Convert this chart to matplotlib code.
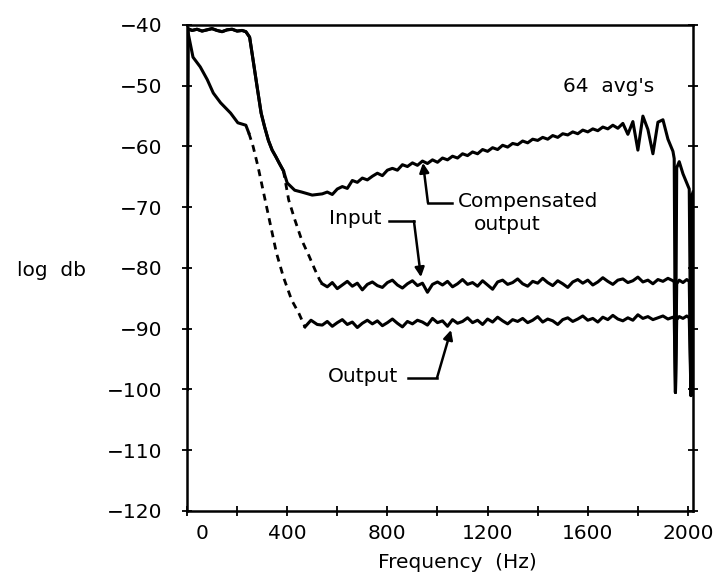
import numpy as np
import matplotlib
matplotlib.use("Agg")
import matplotlib.pyplot as plt
from matplotlib.transforms import ScaledTranslation

# spectrum traces (Hz, log db)

# leading part of the traces (0 Hz up to the noise floor)
input_head_f = [0, 4, 20, 40, 60, 80, 100, 120, 140, 160, 180, 200, 220, 235,
                250, 264, 280, 296, 310, 325, 340, 355, 369, 385,
                406, 430, 458, 487, 511, 530]
input_head_db = [-100, -40.6, -40.9, -40.7, -41.0, -40.8, -40.6, -40.9, -41.1, -40.8,
                 -40.7, -41.0, -40.9, -41.1, -42.0, -45.8, -50.2, -54.5, -56.8, -59.0,
                 -60.6, -61.7, -62.8, -64.0,
                 -68.8, -72.0, -75.4, -78.0, -80.3, -82.0]

comp_head_f = [0, 4, 20, 40, 60, 80, 100, 120, 140, 160, 180, 200, 220, 235,
               250, 264, 280, 296, 310, 325, 340, 355, 369, 385,
               400, 430, 458, 500, 520]
comp_head_db = [-100, -40.6, -40.9, -40.7, -41.0, -40.8, -40.6, -40.9, -41.1, -40.8,
                -40.7, -41.0, -40.9, -41.1, -42.0, -45.8, -50.2, -54.5, -56.8, -59.0,
                -60.6, -61.7, -62.8, -64.0,
                -66.0, -67.2, -67.5, -68.0, -67.9]

output_head_f = [0, 3, 24, 53, 81, 105, 134, 174, 203, 235, 247, 264, 284,
                 357, 385, 418, 446, 471, 495, 520]
output_head_db = [-100, -41.0, -45.3, -46.9, -49.0, -51.2, -52.8, -54.5, -56.1, -56.5,
                  -57.8, -60.0, -63.4, -77.5, -81.5, -85.3, -87.4, -89.7, -88.6, -89.3]

# noise floor, one value per 20 Hz bin from 540 to 1940 Hz
floor_f = np.arange(540, 1941, 20)

input_floor_db = [
    -82.6, -83.1, -82.4, -83.4, -82.8, -82.2, -83.0, -82.5, -83.6, -82.7,
    -82.3, -82.9, -83.2, -82.4, -82.0, -82.8, -83.3, -82.6, -82.1, -82.9,
    -82.5, -84.0, -82.7, -82.3, -82.8, -82.2, -83.1, -82.6, -81.9, -82.7,
    -82.4, -83.0, -82.1, -82.8, -83.5, -82.3, -82.0, -82.7, -82.4, -81.8,
    -82.6, -83.0, -82.2, -82.5, -81.7, -82.4, -82.9, -82.1, -82.6, -83.2,
    -82.3, -81.9, -82.5, -82.0, -82.8, -82.3, -81.6, -82.2, -82.7, -82.0,
    -81.8, -82.4, -82.1, -81.5, -82.3, -82.0, -82.6, -81.9, -82.2, -81.7,
    -82.1]

output_floor_db = [
    -89.4, -88.8, -89.6, -89.0, -88.5, -89.3, -88.9, -89.8, -89.1, -88.6,
    -89.2, -88.7, -89.5, -89.0, -88.4, -89.1, -89.7, -88.8, -89.2, -88.6,
    -88.9, -89.4, -88.3, -89.0, -88.7, -89.6, -88.5, -89.1, -88.8, -88.2,
    -89.0, -88.6, -89.3, -88.4, -88.9, -88.1, -88.7, -89.2, -88.5, -88.8,
    -88.3, -89.0, -88.6, -88.0, -88.9, -88.4, -88.7, -89.3, -88.5, -88.2,
    -88.8, -88.4, -87.9, -88.6, -88.3, -88.9, -88.1, -88.5, -87.8, -88.4,
    -88.7, -88.2, -88.6, -87.7, -88.3, -88.0, -88.5, -88.2, -87.9, -88.4,
    -88.1]

comp_floor_db = [
    -67.8, -67.5, -67.9, -67.0, -66.6, -66.9, -65.6, -65.9, -65.2, -65.5,
    -64.9, -64.4, -64.8, -63.9, -63.6, -63.9, -63.0, -63.3, -62.7, -63.1,
    -62.4, -62.8, -62.2, -62.6, -61.9, -62.2, -61.6, -61.9, -61.2, -61.5,
    -60.9, -61.2, -60.5, -60.8, -60.2, -60.5, -59.8, -60.1, -59.5, -59.7,
    -59.1, -59.4, -58.8, -59.0, -58.5, -58.8, -58.2, -58.5, -57.9, -58.1,
    -57.6, -57.9, -57.3, -57.6, -57.1, -57.4, -56.8, -57.1, -56.5, -57.0,
    -56.2, -58.0, -55.9, -60.6, -55.0, -57.2, -61.2, -56.0, -55.6, -58.8,
    -60.8]

# top end of the band with the two deep notches
tail_f = [1945, 1950, 1955, 1965, 1980, 1995, 2005, 2012, 2016, 2020]
comp_tail_db = [-62.0, -100.5, -63.5, -62.5, -64.5, -66.0, -67.0, -101.0, -68.0, -67.5]
input_tail_db = [-82.2, -100.5, -82.6, -82.0, -82.4, -81.9, -82.2, -101.0, -82.4, -82.0]
output_tail_db = [-88.2, -100.5, -88.5, -88.0, -88.3, -87.9, -88.2, -101.0, -88.6, -88.1]

x_ticks = [0, 400, 800, 1200, 1600, 2000]
y_ticks = [-40, -50, -60, -70, -80, -90, -100, -110, -120]


def join(head_f, head_db, floor_db, tail_db):
    f = np.concatenate([head_f, floor_f, tail_f]).astype(float)
    v = np.concatenate([head_db, floor_db, tail_db]).astype(float)
    return f, v


def draw(ax, f, v, fast_lo=None, fast_hi=None):
    # the pen skipped over the steep parts, so those are drawn dashed
    if fast_lo is None:
        ax.plot(f, v, color="black", lw=2.2, solid_joinstyle="round")
        return
    inside = (f > fast_lo) & (f < fast_hi)
    ax.plot(f, np.ma.masked_where(inside, v), color="black", lw=2.2)
    outside = (f < fast_lo) | (f > fast_hi)
    ax.plot(f, np.ma.masked_where(outside, v), color="black", lw=2.0,
            linestyle=(0, (2.5, 2.0)))


plt.rcParams["font.family"] = "DejaVu Sans"

fig = plt.figure(figsize=(7.2, 5.81), dpi=100)
ax = fig.add_axes([0.2597, 0.1205, 0.7028, 0.8365])

f_in, v_in = join(input_head_f, input_head_db, input_floor_db, input_tail_db)
f_cp, v_cp = join(comp_head_f, comp_head_db, comp_floor_db, comp_tail_db)
f_out, v_out = join(output_head_f, output_head_db, output_floor_db, output_tail_db)

draw(ax, f_cp, v_cp)
draw(ax, f_in, v_in, 385, 540)
draw(ax, f_out, v_out, 247, 471)

ax.set_xlim(0, 2020)
ax.set_ylim(-120, -40)

ax.set_xticks(x_ticks)
ax.set_xticks(np.arange(200, 2001, 400), minor=True)
ax.set_yticks(y_ticks)
ax.set_yticklabels([f"\u2212{abs(t)}" for t in y_ticks])
ax.tick_params(axis="both", which="both", direction="inout", length=7, width=1.3,
               top=False, right=True, labelsize=14.5, colors="black")
ax.tick_params(axis="y", pad=14)
ax.tick_params(axis="x", pad=6)

# the "0" sits a little to the right of its tick on the original
zero_lbl = ax.get_xticklabels()[0]
zero_lbl.set_transform(zero_lbl.get_transform() + ScaledTranslation(15 / 100, 0, fig.dpi_scale_trans))

for side in ["left", "bottom", "top", "right"]:
    ax.spines[side].set_linewidth(1.8)

# curve labels with their hooked arrows
txt = dict(fontsize=14.5, color="black")
ax.text(1502, -50.2, "64  avg's", va="center", ha="left", **txt)

ax.text(671, -71.8, "Input", va="center", ha="center", **txt)
ax.plot([806, 906], [-72.3, -72.3], color="black", lw=1.8)
ax.annotate("", xy=(934, -81.5), xytext=(906, -72.3),
            arrowprops=dict(arrowstyle="-|>", color="black", lw=1.8, mutation_scale=14,
                            shrinkA=0, shrinkB=0))

ax.text(1082, -69.0, "Compensated", va="center", ha="left", **txt)
ax.text(1146, -72.8, "output", va="center", ha="left", **txt)
ax.plot([1058, 962], [-69.3, -69.3], color="black", lw=1.8)
ax.annotate("", xy=(942, -62.7), xytext=(962, -69.3),
            arrowprops=dict(arrowstyle="-|>", color="black", lw=1.8, mutation_scale=14,
                            shrinkA=0, shrinkB=0))

ax.text(703, -97.9, "Output", va="center", ha="center", **txt)
ax.plot([883, 998], [-98.1, -98.1], color="black", lw=1.8)
ax.annotate("", xy=(1054, -90.2), xytext=(998, -98.1),
            arrowprops=dict(arrowstyle="-|>", color="black", lw=1.8, mutation_scale=14,
                            shrinkA=0, shrinkB=0))

fig.text(0.071, 0.535, "log  db", fontsize=14.5, ha="center", va="center")
fig.text(0.635, 0.031, "Frequency  (Hz)", fontsize=14.5, ha="center", va="center")

fig.savefig("out.png", dpi=100)
